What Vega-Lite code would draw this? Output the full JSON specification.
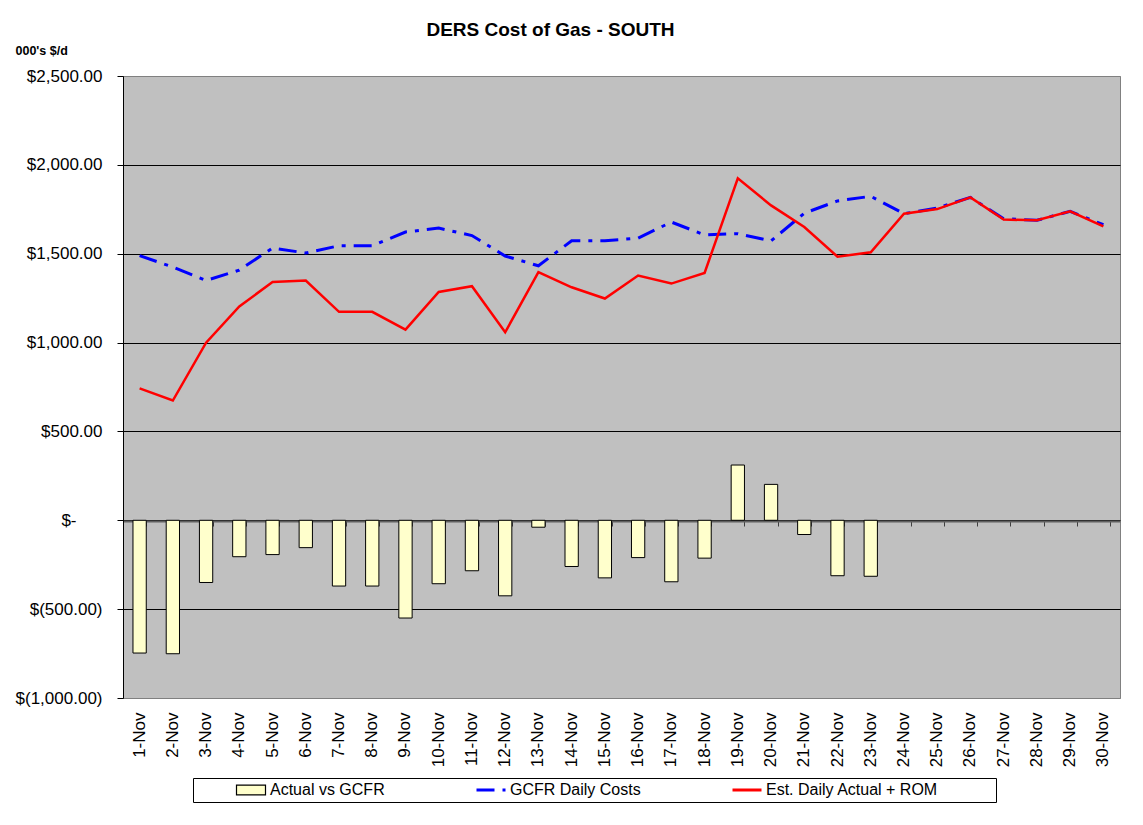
{
  "$schema": "https://vega.github.io/schema/vega-lite/v6.json",
  "width": 997,
  "height": 622,
  "autosize": "none",
  "padding": {"left": 123, "top": 76, "right": 23, "bottom": 127},
  "background": "#FFFFFF",
  "config": {
    "font": "Liberation Sans",
    "view": {"fill": "#C0C0C0", "stroke": "#808080", "strokeWidth": 1}
  },
  "title": {
    "text": "DERS Cost of Gas - SOUTH",
    "fontSize": 19,
    "fontWeight": "bold",
    "anchor": "middle",
    "dx": -71,
    "offset": 4,
    "color": "#000000"
  },
  "data": {
    "values": [
      {"day": "1-Nov", "series": "Actual vs GCFR", "value": -747},
      {"day": "2-Nov", "series": "Actual vs GCFR", "value": -751},
      {"day": "3-Nov", "series": "Actual vs GCFR", "value": -350},
      {"day": "4-Nov", "series": "Actual vs GCFR", "value": -205},
      {"day": "5-Nov", "series": "Actual vs GCFR", "value": -193},
      {"day": "6-Nov", "series": "Actual vs GCFR", "value": -154},
      {"day": "7-Nov", "series": "Actual vs GCFR", "value": -370},
      {"day": "8-Nov", "series": "Actual vs GCFR", "value": -370},
      {"day": "9-Nov", "series": "Actual vs GCFR", "value": -550},
      {"day": "10-Nov", "series": "Actual vs GCFR", "value": -357},
      {"day": "11-Nov", "series": "Actual vs GCFR", "value": -284},
      {"day": "12-Nov", "series": "Actual vs GCFR", "value": -425},
      {"day": "13-Nov", "series": "Actual vs GCFR", "value": -39},
      {"day": "14-Nov", "series": "Actual vs GCFR", "value": -260},
      {"day": "15-Nov", "series": "Actual vs GCFR", "value": -324},
      {"day": "16-Nov", "series": "Actual vs GCFR", "value": -210},
      {"day": "17-Nov", "series": "Actual vs GCFR", "value": -346},
      {"day": "18-Nov", "series": "Actual vs GCFR", "value": -213},
      {"day": "19-Nov", "series": "Actual vs GCFR", "value": 311},
      {"day": "20-Nov", "series": "Actual vs GCFR", "value": 202},
      {"day": "21-Nov", "series": "Actual vs GCFR", "value": -80},
      {"day": "22-Nov", "series": "Actual vs GCFR", "value": -312},
      {"day": "23-Nov", "series": "Actual vs GCFR", "value": -315},
      {"day": "1-Nov", "series": "GCFR Daily Costs", "value": 1489},
      {"day": "2-Nov", "series": "GCFR Daily Costs", "value": 1425},
      {"day": "3-Nov", "series": "GCFR Daily Costs", "value": 1349},
      {"day": "4-Nov", "series": "GCFR Daily Costs", "value": 1408},
      {"day": "5-Nov", "series": "GCFR Daily Costs", "value": 1532},
      {"day": "6-Nov", "series": "GCFR Daily Costs", "value": 1504},
      {"day": "7-Nov", "series": "GCFR Daily Costs", "value": 1545},
      {"day": "8-Nov", "series": "GCFR Daily Costs", "value": 1545},
      {"day": "9-Nov", "series": "GCFR Daily Costs", "value": 1622},
      {"day": "10-Nov", "series": "GCFR Daily Costs", "value": 1644},
      {"day": "11-Nov", "series": "GCFR Daily Costs", "value": 1602},
      {"day": "12-Nov", "series": "GCFR Daily Costs", "value": 1487},
      {"day": "13-Nov", "series": "GCFR Daily Costs", "value": 1432},
      {"day": "14-Nov", "series": "GCFR Daily Costs", "value": 1573},
      {"day": "15-Nov", "series": "GCFR Daily Costs", "value": 1573},
      {"day": "16-Nov", "series": "GCFR Daily Costs", "value": 1588},
      {"day": "17-Nov", "series": "GCFR Daily Costs", "value": 1678},
      {"day": "18-Nov", "series": "GCFR Daily Costs", "value": 1606},
      {"day": "19-Nov", "series": "GCFR Daily Costs", "value": 1613},
      {"day": "20-Nov", "series": "GCFR Daily Costs", "value": 1572},
      {"day": "21-Nov", "series": "GCFR Daily Costs", "value": 1728},
      {"day": "22-Nov", "series": "GCFR Daily Costs", "value": 1797},
      {"day": "23-Nov", "series": "GCFR Daily Costs", "value": 1823},
      {"day": "24-Nov", "series": "GCFR Daily Costs", "value": 1725},
      {"day": "25-Nov", "series": "GCFR Daily Costs", "value": 1757},
      {"day": "26-Nov", "series": "GCFR Daily Costs", "value": 1817},
      {"day": "27-Nov", "series": "GCFR Daily Costs", "value": 1697},
      {"day": "28-Nov", "series": "GCFR Daily Costs", "value": 1688},
      {"day": "29-Nov", "series": "GCFR Daily Costs", "value": 1739},
      {"day": "30-Nov", "series": "GCFR Daily Costs", "value": 1663},
      {"day": "1-Nov", "series": "Est. Daily Actual + ROM", "value": 742},
      {"day": "2-Nov", "series": "Est. Daily Actual + ROM", "value": 674},
      {"day": "3-Nov", "series": "Est. Daily Actual + ROM", "value": 999},
      {"day": "4-Nov", "series": "Est. Daily Actual + ROM", "value": 1203},
      {"day": "5-Nov", "series": "Est. Daily Actual + ROM", "value": 1341},
      {"day": "6-Nov", "series": "Est. Daily Actual + ROM", "value": 1349},
      {"day": "7-Nov", "series": "Est. Daily Actual + ROM", "value": 1173},
      {"day": "8-Nov", "series": "Est. Daily Actual + ROM", "value": 1173},
      {"day": "9-Nov", "series": "Est. Daily Actual + ROM", "value": 1073},
      {"day": "10-Nov", "series": "Est. Daily Actual + ROM", "value": 1285},
      {"day": "11-Nov", "series": "Est. Daily Actual + ROM", "value": 1317},
      {"day": "12-Nov", "series": "Est. Daily Actual + ROM", "value": 1058},
      {"day": "13-Nov", "series": "Est. Daily Actual + ROM", "value": 1396},
      {"day": "14-Nov", "series": "Est. Daily Actual + ROM", "value": 1311},
      {"day": "15-Nov", "series": "Est. Daily Actual + ROM", "value": 1248},
      {"day": "16-Nov", "series": "Est. Daily Actual + ROM", "value": 1377},
      {"day": "17-Nov", "series": "Est. Daily Actual + ROM", "value": 1332},
      {"day": "18-Nov", "series": "Est. Daily Actual + ROM", "value": 1392},
      {"day": "19-Nov", "series": "Est. Daily Actual + ROM", "value": 1924},
      {"day": "20-Nov", "series": "Est. Daily Actual + ROM", "value": 1772},
      {"day": "21-Nov", "series": "Est. Daily Actual + ROM", "value": 1650},
      {"day": "22-Nov", "series": "Est. Daily Actual + ROM", "value": 1483},
      {"day": "23-Nov", "series": "Est. Daily Actual + ROM", "value": 1508},
      {"day": "24-Nov", "series": "Est. Daily Actual + ROM", "value": 1725},
      {"day": "25-Nov", "series": "Est. Daily Actual + ROM", "value": 1751},
      {"day": "26-Nov", "series": "Est. Daily Actual + ROM", "value": 1817},
      {"day": "27-Nov", "series": "Est. Daily Actual + ROM", "value": 1692},
      {"day": "28-Nov", "series": "Est. Daily Actual + ROM", "value": 1688},
      {"day": "29-Nov", "series": "Est. Daily Actual + ROM", "value": 1739},
      {"day": "30-Nov", "series": "Est. Daily Actual + ROM", "value": 1654}
    ]
  },
  "encoding": {
    "y": {
      "field": "value",
      "type": "quantitative",
      "scale": {"domain": [-1000, 2500], "nice": false, "zero": false},
      "axis": {
        "values": [-1000, -500, 0, 500, 1000, 1500, 2000, 2500],
        "grid": true,
        "gridColor": {"condition": {"test": "datum.value === 2500 || datum.value === -1000", "value": "#808080"}, "value": "#000000"},
        "gridWidth": 1,
        "domainColor": "#000000",
        "tickColor": "#000000",
        "tickSize": 6,
        "labelFontSize": 17,
        "labelPadding": {"condition": {"test": "datum.value === 0", "value": 41}, "value": 15},
        "labelColor": "#000000",
        "labelExpr": "datum.value === 0 ? '$-' : (datum.value < 0 ? '$(' + format(-datum.value, ',.2f') + ')' : '$' + format(datum.value, ',.2f'))",
        "title": "000's $/d",
        "titleAngle": 0,
        "titleX": -108,
        "titleY": -22,
        "titleAlign": "left",
        "titleBaseline": "alphabetic",
        "titleFontSize": 12.5,
        "titleFontWeight": "bold",
        "titleColor": "#000000"
      }
    },
    "stroke": {
      "field": "series",
      "type": "nominal",
      "scale": {
        "domain": ["Actual vs GCFR", "GCFR Daily Costs", "Est. Daily Actual + ROM"],
        "range": ["#000000", "#0000FF", "#FF0000"]
      },
      "legend": {
        "orient": "none",
        "legendX": 70,
        "legendY": 702,
        "direction": "horizontal",
        "columns": 3,
        "title": "\u200b\u00a0\u200b",
        "titleOrient": "left",
        "titlePadding": 41,
        "titleFontSize": 16,
        "padding": 4,
        "strokeColor": "#000000",
        "fillColor": "#FFFFFF",
        "columnPadding": 85,
        "labelOffset": 11,
        "labelFontSize": 16,
        "labelColor": "#000000",
        "labelLimit": 400,
        "symbolSize": 841,
        "symbolFillColor": "#FFFFCC",
        "labelExpr": "datum.value === 'Est. Daily Actual + ROM' ? datum.label + '\u00a0\u00a0\u00a0\u00a0\u00a0\u00a0\u00a0\u00a0\u00a0\u00a0\u00a0\u00a0\u200b' : datum.label",
        "encode": {
          "symbols": {
            "update": {
              "shape": {"signal": "datum.value === 'Actual vs GCFR' ? 'M-1,-0.34H1V0.34H-1Z' : 'stroke'"},
              "fill": {"signal": "datum.value === 'Actual vs GCFR' ? '#FFFFCC' : 'transparent'"},
              "strokeWidth": {"signal": "datum.value === 'Actual vs GCFR' ? 1.2 : 3"},
              "strokeDash": {"signal": "datum.value === 'GCFR Daily Costs' ? [18, 8, 4, 8] : null"},
              "opacity": {"value": 1},
              "fillOpacity": {"value": 1},
              "strokeOpacity": {"value": 1},
              "size": {"value": 841}
            }
          }
        }
      }
    }
  },
  "layer": [
    {
      "transform": [{"filter": "datum.series === 'Actual vs GCFR'"}],
      "mark": {"type": "bar", "fill": "#FFFFCC", "strokeWidth": 1, "strokeOpacity": 1, "opacity": 1},
      "encoding": {
        "x": {
          "field": "day",
          "type": "nominal",
          "scale": {
            "domain": ["1-Nov","2-Nov","3-Nov","4-Nov","5-Nov","6-Nov","7-Nov","8-Nov","9-Nov","10-Nov","11-Nov","12-Nov","13-Nov","14-Nov","15-Nov","16-Nov","17-Nov","18-Nov","19-Nov","20-Nov","21-Nov","22-Nov","23-Nov","24-Nov","25-Nov","26-Nov","27-Nov","28-Nov","29-Nov","30-Nov"],
            "paddingInner": 0.6,
            "paddingOuter": 0.3
          },
          "axis": {
            "orient": "bottom",
            "offset": -177,
            "labels": false,
            "grid": false,
            "title": null,
            "ticks": true,
            "tickBand": "extent",
            "tickSize": 5,
            "tickColor": "#404040",
            "domainColor": "#606060",
            "domainWidth": 2
          }
        }
      }
    },
    {
      "transform": [{"filter": "datum.series === 'GCFR Daily Costs'"}],
      "mark": {"type": "line", "strokeWidth": 3, "strokeDash": [18, 8, 4, 8]},
      "encoding": {
        "x": {
          "field": "day",
          "type": "nominal",
          "axis": {
            "orient": "bottom",
            "domain": false,
            "ticks": false,
            "tickSize": 0,
            "grid": false,
            "title": null,
            "labelAngle": -90,
            "labelFontSize": 17,
            "labelPadding": 14,
            "labelColor": "#000000"
          }
        }
      }
    },
    {
      "transform": [{"filter": "datum.series === 'Est. Daily Actual + ROM'"}],
      "mark": {"type": "line", "strokeWidth": 2.5},
      "encoding": {
        "x": {"field": "day", "type": "nominal", "axis": null}
      }
    }
  ],
  "resolve": {"axis": {"x": "independent"}}
}
